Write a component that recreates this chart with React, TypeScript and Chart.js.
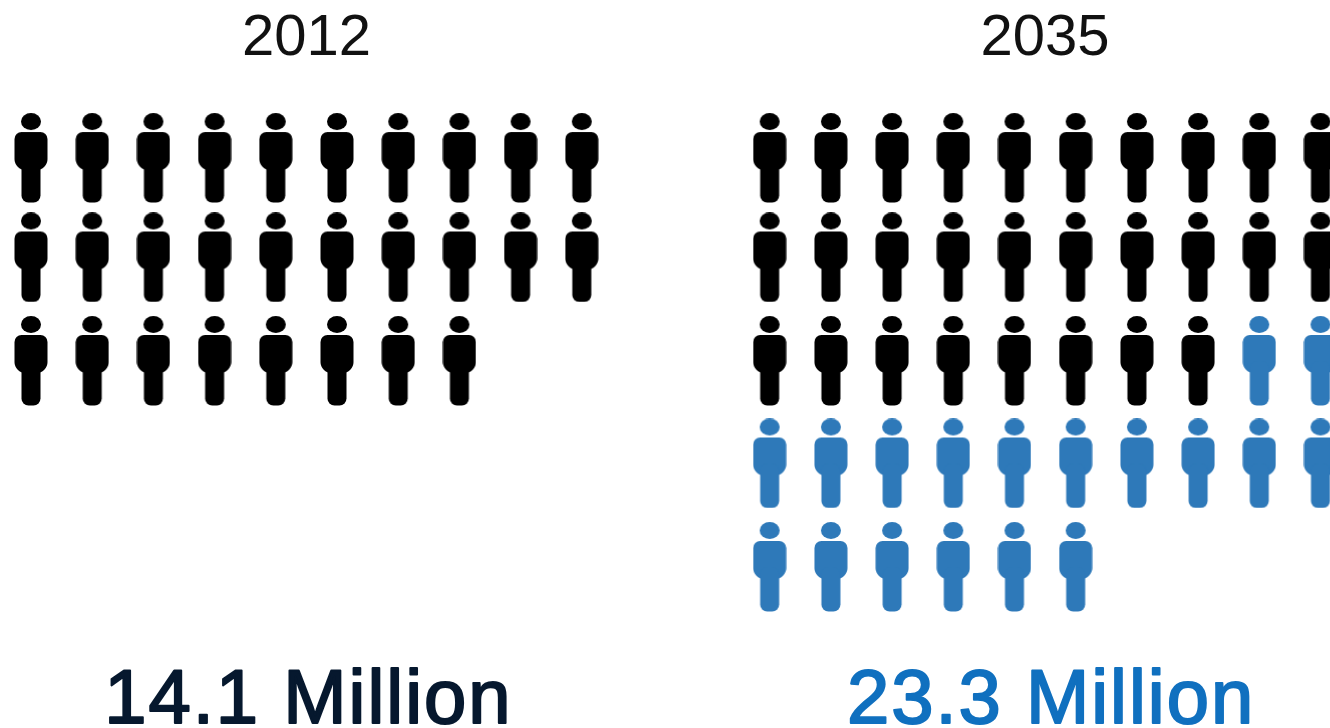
import React, { useEffect, useRef } from "react";
import { Chart, registerables } from "chart.js";

Chart.register(...registerables);

// Each figure stands for half a million people.
const years = ["2012", "2035"];
const totals = ["14.1 Million", "23.3 Million"];
const existingFigures = [28, 28];
const addedFigures = [0, 18];
const perRow = 10;
const panelStart = [0, 12.07];
const rowLevels = [0.01, 0.98, 1.99, 2.99, 4];

const WIDTH = 1330;
const HEIGHT = 728;
const COL_PX = 61.2;
const ROW_PX = 102.5;
const FIRST_COL_PX = 31;
const FIRST_ROW_PX = 157;

const BLACK = "#000000";
const BLUE = "#2e79b9";
const YEAR_COLOR = "#111111";
const TOTAL_COLORS = ["#06182e", "#1070bf"];
const TOTAL_SHIFT = [2, 6];

function personIcon(color: string): HTMLCanvasElement {
  const c = document.createElement("canvas");
  c.width = 34;
  c.height = 90;
  const g = c.getContext("2d")!;
  g.fillStyle = color;
  g.beginPath();
  g.ellipse(17, 8.5, 10, 8.5, 0, 0, Math.PI * 2);
  g.fill();
  g.beginPath();
  g.roundRect(0.5, 19, 33, 38, [7, 7, 11, 11]);
  g.fill();
  g.beginPath();
  g.roundRect(7.5, 45, 19, 44.5, 7);
  g.fill();
  return c;
}

type Pt = { x: number; y: number };

// Lays figures out row by row inside a year's panel, continuing after `skip` figures.
function figures(panel: number, skip: number, count: number): Pt[] {
  const pts: Pt[] = [];
  for (let i = skip; i < skip + count; i++) {
    pts.push({ x: panelStart[panel] + (i % perRow), y: rowLevels[Math.floor(i / perRow)] });
  }
  return pts;
}

const captions = {
  id: "captions",
  afterDraw(chart: any) {
    const { ctx, scales } = chart;
    ctx.save();
    ctx.textAlign = "center";
    ctx.textBaseline = "alphabetic";
    ctx.lineJoin = "round";
    years.forEach((year, i) => {
      const cx = scales.x.getPixelForValue(panelStart[i] + (perRow - 1) / 2);
      ctx.fillStyle = YEAR_COLOR;
      ctx.font = '58px "Liberation Sans"';
      ctx.fillText(year, cx, 55);
      ctx.fillStyle = TOTAL_COLORS[i];
      ctx.strokeStyle = TOTAL_COLORS[i];
      ctx.lineWidth = 2;
      ctx.font = '76px "Liberation Sans"';
      (ctx as any).letterSpacing = "2px";
      ctx.fillText(totals[i], cx + TOTAL_SHIFT[i], 723);
      ctx.strokeText(totals[i], cx + TOTAL_SHIFT[i], 723);
      (ctx as any).letterSpacing = "0px";
    });
    ctx.restore();
  },
};

export default function App() {
  const ref = useRef<HTMLCanvasElement>(null);

  useEffect(() => {
    const black: Pt[] = [];
    const blue: Pt[] = [];
    years.forEach((_, i) => {
      black.push(...figures(i, 0, existingFigures[i]));
      blue.push(...figures(i, existingFigures[i], addedFigures[i]));
    });
    const chart = new Chart(ref.current!, {
      type: "scatter",
      data: {
        datasets: [
          { label: "Existing", data: black, pointStyle: personIcon(BLACK) as any, clip: false },
          { label: "Added", data: blue, pointStyle: personIcon(BLUE) as any, clip: false },
        ],
      },
      options: {
        animation: false,
        responsive: false,
        layout: { padding: 0, autoPadding: false },
        plugins: { legend: { display: false }, tooltip: { enabled: false } },
        scales: {
          x: {
            type: "linear",
            display: false,
            min: -FIRST_COL_PX / COL_PX,
            max: (WIDTH - FIRST_COL_PX) / COL_PX,
          },
          y: {
            type: "linear",
            display: false,
            reverse: true,
            min: -FIRST_ROW_PX / ROW_PX,
            max: (HEIGHT - FIRST_ROW_PX) / ROW_PX,
          },
        },
      },
      plugins: [captions],
    });
    return () => chart.destroy();
  }, []);

  return (
    <canvas
      ref={ref}
      width={WIDTH}
      height={HEIGHT}
      style={{ position: "fixed", left: 0, top: 0, background: "#ffffff" }}
    />
  );
}
